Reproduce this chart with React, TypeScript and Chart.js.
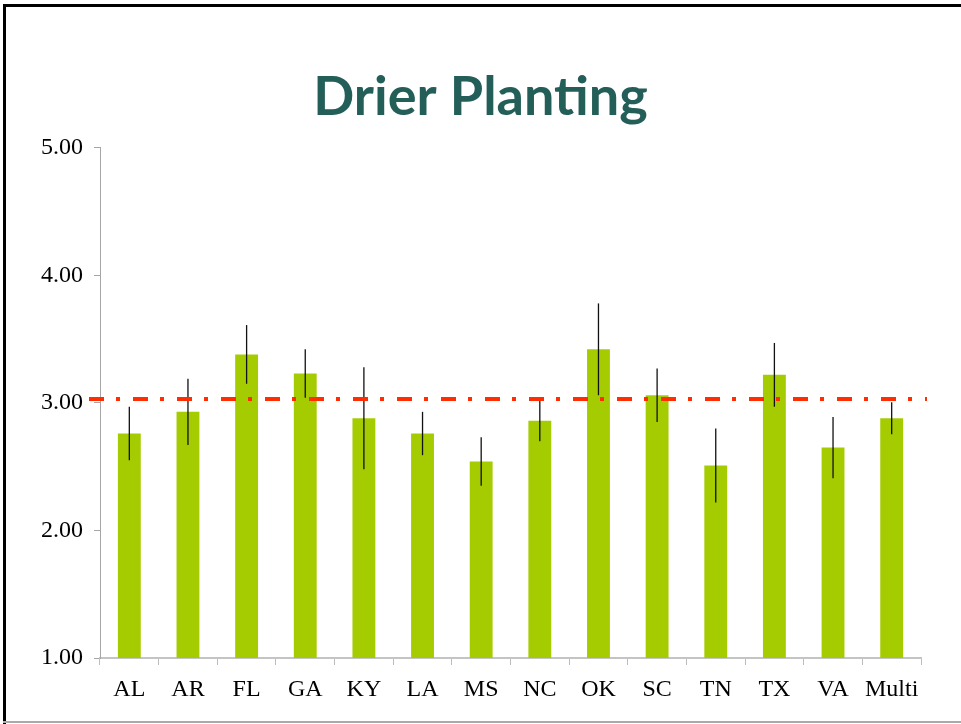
import React, { useEffect, useRef } from "react";
import { Chart, registerables } from "chart.js";

Chart.register(...registerables);

const categories = ["AL", "AR", "FL", "GA", "KY", "LA", "MS", "NC", "OK", "SC", "TN", "TX", "VA", "Multi"];
const means = [2.76, 2.93, 3.38, 3.23, 2.88, 2.76, 2.54, 2.86, 3.42, 3.06, 2.51, 3.22, 2.65, 2.88];
const errors = [0.21, 0.26, 0.23, 0.19, 0.4, 0.17, 0.19, 0.16, 0.36, 0.21, 0.29, 0.25, 0.24, 0.125];
const referenceLine = 3.03;
const yTicks = [1, 2, 3, 4, 5];
const titleText = "Drier Planting";

const overlayPlugin = {
  id: "overlay",
  afterDatasetsDraw(chart: any) {
    const ctx = chart.ctx;
    const yScale = chart.scales.y;
    const meta = chart.getDatasetMeta(0);
    ctx.save();
    ctx.strokeStyle = "#111111";
    ctx.lineWidth = 1.3;
    meta.data.forEach((bar: any, i: number) => {
      const top = yScale.getPixelForValue(means[i] + errors[i]);
      const bottom = yScale.getPixelForValue(means[i] - errors[i]);
      ctx.beginPath();
      ctx.moveTo(bar.x, top);
      ctx.lineTo(bar.x, bottom);
      ctx.stroke();
    });
    const y = yScale.getPixelForValue(referenceLine);
    const area = chart.chartArea;
    ctx.strokeStyle = "#ff2d00";
    ctx.lineWidth = 4;
    ctx.setLineDash([15, 12, 4, 13]);
    ctx.beginPath();
    ctx.moveTo(area.left - 11, y);
    ctx.lineTo(area.right + 6, y);
    ctx.stroke();
    ctx.restore();
  },
};

export default function App() {
  const canvasRef = useRef<HTMLCanvasElement | null>(null);

  useEffect(() => {
    document.body.style.margin = "0";
    const canvas = canvasRef.current;
    if (!canvas) return;
    const chart = new Chart(canvas, {
      type: "bar",
      data: {
        labels: categories,
        datasets: [
          {
            data: means,
            backgroundColor: "#a5cc00",
            borderWidth: 0,
            barPercentage: 0.39,
            categoryPercentage: 1,
          },
        ],
      },
      options: {
        responsive: false,
        animation: false,
        layout: { padding: { left: 0, right: 0, top: 0, bottom: 0 } },
        plugins: {
          legend: { display: false },
          tooltip: { enabled: false },
          title: {
            display: true,
            text: titleText,
            color: "#235e58",
            font: { family: "Lato", weight: "bold", size: 54 },
            padding: { top: 65, bottom: 18 },
          },
        },
        scales: {
          x: {
            grid: {
              display: true,
              drawOnChartArea: false,
              drawTicks: true,
              tickLength: 7,
              color: "#bdbdbd",
              offset: true,
            },
            border: { color: "#c4c4c4", width: 2 },
            ticks: {
              font: { family: "Liberation Serif", size: 24 },
              color: "#000000",
              padding: 10,
              maxRotation: 0,
              minRotation: 0,
              autoSkip: false,
            },
            afterFit: (s: any) => {
              s.height = 66;
            },
          },
          y: {
            min: 1,
            max: 5,
            grid: {
              drawOnChartArea: false,
              drawTicks: true,
              tickLength: 6,
              color: "#a6a6a6",
            },
            border: { color: "#a6a6a6", width: 1 },
            ticks: {
              font: { family: "Liberation Serif", size: 24 },
              color: "#000000",
              padding: 11,
              callback: (v: any) => Number(v).toFixed(2),
            },
            afterBuildTicks: (s: any) => {
              s.ticks = yTicks.map((v) => ({ value: v }));
            },
            afterFit: (s: any) => {
              s.width = 100;
            },
          },
          spacer: {
            type: "linear",
            position: "right",
            display: true,
            grid: { display: false, drawTicks: false },
            border: { display: false },
            ticks: { display: false },
            afterFit: (s: any) => {
              s.width = 40;
            },
          },
        },
      },
      plugins: [overlayPlugin],
    });
    return () => chart.destroy();
  }, []);

  return (
    <div style={{ position: "relative", width: 961, height: 724, background: "#ffffff", overflow: "hidden" }}>
      <canvas ref={canvasRef} width={961} height={724} style={{ position: "absolute", left: 0, top: 0 }} />
      <div style={{ position: "absolute", left: 3, top: 4, width: 958, height: 3, background: "#000" }} />
      <div style={{ position: "absolute", left: 3, top: 4, width: 3, height: 720, background: "#000" }} />
      <div style={{ position: "absolute", left: 3, top: 721, width: 958, height: 2, background: "#aaaaaa" }} />
    </div>
  );
}
